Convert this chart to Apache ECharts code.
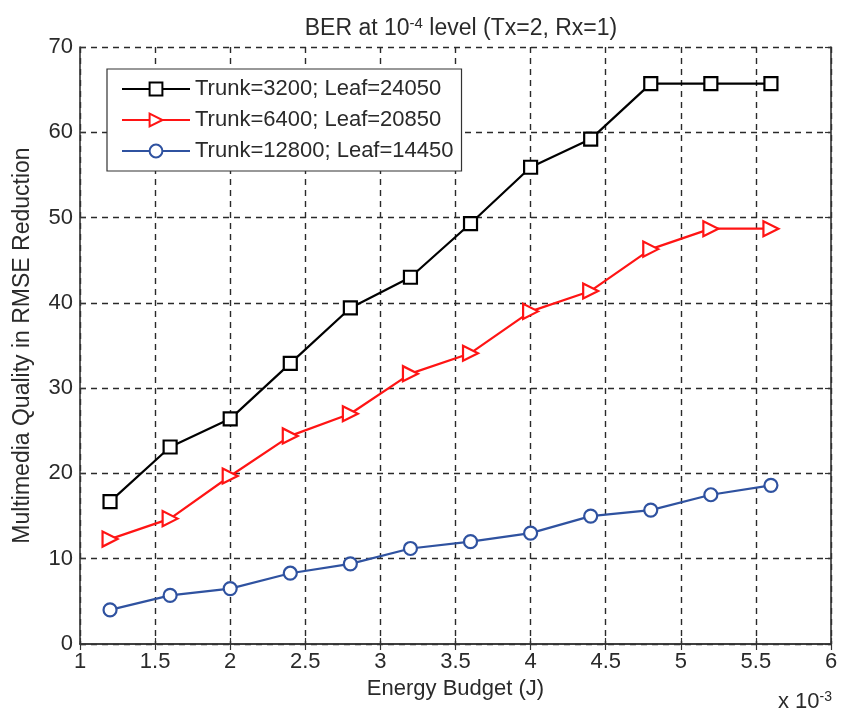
<!DOCTYPE html>
<html>
<head>
<meta charset="utf-8">
<script src="https://cdn.jsdelivr.net/npm/echarts@6/dist/echarts.min.js"></script>
<style>
  html, body { margin: 0; padding: 0; background: #fff; }
  #chart { width: 844px; height: 715px; }
</style>
</head>
<body>
<div id="chart"></div>
<script>
// Energy budget values (x 10^-3 J)
const energy = [1.2, 1.6, 2.0, 2.4, 2.8, 3.2, 3.6, 4.0, 4.4, 4.8, 5.2, 5.6];

const seriesNames = [
  'Trunk=3200; Leaf=24050',
  'Trunk=6400; Leaf=20850',
  'Trunk=12800; Leaf=14450'
];

// Multimedia quality (RMSE reduction) per configuration
const trunk3200 = [16.7, 23.1, 26.4, 32.9, 39.4, 43.0, 49.3, 55.9, 59.2, 65.7, 65.7, 65.7];
const trunk6400 = [12.3, 14.7, 19.7, 24.4, 27.0, 31.7, 34.1, 39.0, 41.4, 46.3, 48.7, 48.7];
const trunk12800 = [4.0, 5.7, 6.5, 8.3, 9.4, 11.2, 12.0, 13.0, 15.0, 15.7, 17.5, 18.6];

const FONT = '"Liberation Sans", Arial, sans-serif';
const TXT = '#2a2a2a';
const FS = 22;

function pairs(ys) { return energy.map((x, i) => [x, ys[i]]); }

const chart = echarts.init(document.getElementById('chart'), null, { renderer: 'canvas' });

const gridDash = { show: true, lineStyle: { color: '#2a2a2a', type: [6, 5], width: 1.4 } };
const frameLine = { show: true, lineStyle: { color: '#333', width: 1.6 } };
const innerTick = { show: true, inside: true, length: 6, lineStyle: { color: '#333', width: 1.2 } };

function mkSeries(name, ys, color, symbol, size, rotate) {
  return {
    name, type: 'line', data: pairs(ys),
    symbol, symbolSize: size, symbolRotate: rotate || 0,
    showAllSymbol: true,
    lineStyle: { color, width: 2.2 },
    itemStyle: { color: '#fff', borderColor: color, borderWidth: 2.2 },
    emphasis: { disabled: true },
    animation: false,
    z: 3
  };
}

chart.setOption({
  backgroundColor: '#fff',
  animation: false,
  title: {
    text: 'BER at 10{sup|-4} level (Tx=2, Rx=1)',
    left: 456, textAlign: 'center', top: 11,
    textStyle: {
      fontFamily: FONT, fontSize: 23, fontWeight: 'normal', color: TXT,
      rich: { sup: { fontFamily: FONT, fontSize: 15, color: TXT, verticalAlign: 'top', padding: [0, 0, 10, 0] } }
    }
  },
  legend: {
    orient: 'vertical', left: 107, top: 69,
    backgroundColor: '#fff', borderColor: '#333', borderWidth: 1.2,
    padding: [9, 8, 9, 14], itemGap: 9,
    itemWidth: 68, itemHeight: 16,
    textStyle: { fontFamily: FONT, fontSize: FS, color: TXT, lineHeight: 22 },
    data: seriesNames
  },
  grid: { left: 80, top: 47, width: 751, height: 597 },
  xAxis: [{
    type: 'value', min: 1, max: 6, interval: 0.5,
    name: 'Energy Budget (J)', nameLocation: 'middle', nameGap: 34,
    nameTextStyle: { fontFamily: FONT, fontSize: FS, color: TXT },
    axisLine: frameLine, axisTick: innerTick,
    axisLabel: { fontFamily: FONT, fontSize: FS, color: TXT, margin: 7 },
    splitLine: gridDash
  }, {
    type: 'value', min: 1, max: 6, interval: 0.5, position: 'top',
    axisLine: frameLine, axisTick: innerTick,
    axisLabel: { show: false }, splitLine: { show: false }
  }],
  yAxis: [{
    type: 'value', min: 0, max: 70, interval: 10,
    name: 'Multimedia Quality in RMSE Reduction', nameLocation: 'middle', nameGap: 46,
    nameTextStyle: { fontFamily: FONT, fontSize: 23, color: TXT },
    axisLine: frameLine, axisTick: innerTick,
    axisLabel: { fontFamily: FONT, fontSize: FS, color: TXT, margin: 7 },
    splitLine: gridDash
  }, {
    type: 'value', min: 0, max: 70, interval: 10, position: 'right',
    axisLine: frameLine, axisTick: innerTick,
    axisLabel: { show: false }, splitLine: { show: false }
  }],
  graphic: [{
    type: 'text', right: 12, top: 690,
    style: {
      text: 'x 10{sup|-3}', fontFamily: FONT, fontSize: FS, fill: TXT,
      rich: { sup: { fontFamily: FONT, fontSize: 14, fill: TXT, verticalAlign: 'top', padding: [0, 0, 10, 0] } }
    }
  }],
  series: [
    mkSeries(seriesNames[0], trunk3200, '#000000', 'rect', 13),
    mkSeries(seriesNames[1], trunk6400, '#ff1414', 'triangle', 15, -90),
    mkSeries(seriesNames[2], trunk12800, '#2f52a0', 'circle', 13)
  ]
});
</script>
</body>
</html>
